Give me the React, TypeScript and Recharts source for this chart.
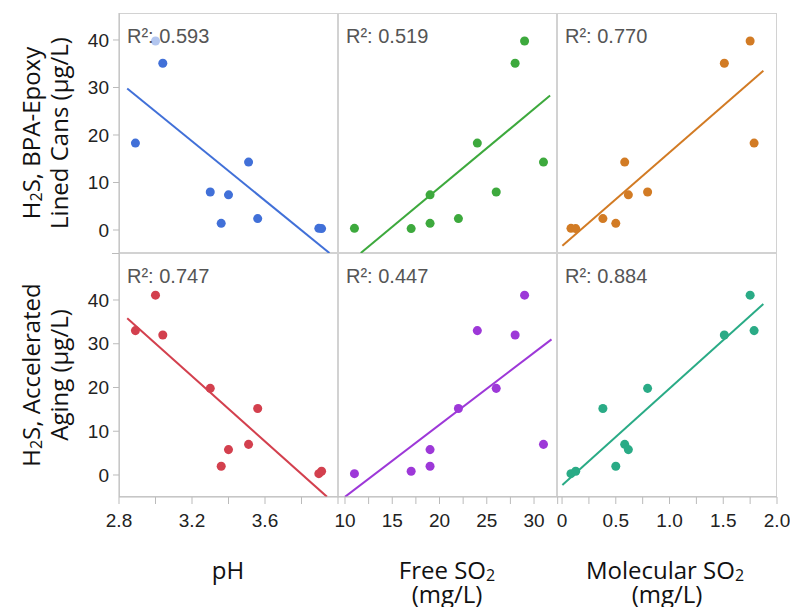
import { ReferenceLine, Scatter, ScatterChart, XAxis, YAxis } from "recharts";

// one entry per wine, same order in every array
const pH = [2.89, 3.0, 3.04, 3.51, 3.3, 3.4, 3.36, 3.56, 3.895, 3.91];
const freeSO2 = [24, 29, 28, 31, 26, 19, 19, 22, 11, 17];
const molecularSO2 = [1.787, 1.75, 1.51, 0.583, 0.796, 0.617, 0.5, 0.38, 0.083, 0.127];
const h2sBpaCans = [18.3, 39.8, 35.1, 14.3, 8.0, 7.4, 1.4, 2.4, 0.35, 0.3];
const h2sAging = [33.0, 41.1, 32.0, 7.0, 19.8, 5.8, 2.0, 15.2, 0.3, 0.85];

const rSquared = [
  ["0.593", "0.519", "0.770"],
  ["0.747", "0.447", "0.884"],
];

// fitted lines, [x1, y1, x2, y2]
const fitLines = [
  [
    [2.845, 29.8, 3.953, -4.84],
    [11.67, -4.84, 31.7, 28.3],
    [0.003, -3.3, 1.873, 33.5],
  ],
  [
    [2.845, 35.8, 3.94, -5.0],
    [10, -5.0, 31.85, 31.0],
    [0.003, -2.3, 1.873, 39.1],
  ],
];

const pHTicks = [2.8, 3.0, 3.2, 3.4, 3.6, 3.8, 4.0];
const pHLabels = [2.8, 3.2, 3.6];
const freeTicks = [10, 12.5, 15, 17.5, 20, 22.5, 25, 27.5, 30, 32.5];
const freeLabels = [10, 15, 20, 25, 30];
const molTicks = [0, 0.25, 0.5, 0.75, 1.0, 1.25, 1.5, 1.75, 2.0];
const molLabels = [0, 0.5, 1.0, 1.5, 2.0];
const yTicks = [0, 10, 20, 30, 40];

const colors = [
  ["#4170d8", "#3da93d", "#d27b24"],
  ["#d3404e", "#9d38d8", "#2aab86"],
];

const xVars = [pH, freeSO2, molecularSO2];
const yVars = [h2sBpaCans, h2sAging];
const xDomains = [
  [2.8, 4.0],
  [9.26, 32.43],
  [-0.047, 2.0],
];
const yDomains = [
  [-4.84, 45.68],
  [-5.03, 50.74],
];
const xTicks = [pHTicks, freeTicks, molTicks];
const xLabels = [pHLabels, freeLabels, molLabels];

const COL_X = [119, 338, 557, 777];
const ROW_Y = [13, 253, 497];
const Y_AXIS_W = 62;
const X_AXIS_H = 40;
const PAD = 24;
const GRID = "#d2d2d2";
const TICK_FONT = { fontFamily: "Liberation Sans, Arial, sans-serif", fontSize: 19, fill: "#222" };

const fmtX = (col: number) => (v: number) => {
  if (!xLabels[col].some((l) => Math.abs(l - v) < 1e-9)) return "";
  if (col === 1) return String(v);
  if (col === 2 && v === 0) return "0";
  return v.toFixed(1);
};

function Panel({ row, col }: { row: number; col: number }) {
  const left = COL_X[col];
  const right = COL_X[col + 1];
  const top = ROW_Y[row];
  const bottom = ROW_Y[row + 1];
  const showY = col === 0;
  const showX = row === 1;
  const w = right - left + (showY ? Y_AXIS_W : 0) + 2 * PAD;
  const h = bottom - top + (showX ? X_AXIS_H : 0);
  const points = xVars[col].map((x, i) => ({ x, y: yVars[row][i] }));
  const [x1, y1, x2, y2] = fitLines[row][col];
  const color = colors[row][col];

  return (
    <>
      <div
        style={{
          position: "absolute",
          left,
          top,
          width: right - left,
          height: bottom - top,
          border: `1px solid ${GRID}`,
          boxSizing: "border-box",
        }}
      />
      <div style={{ position: "absolute", left: left - (showY ? Y_AXIS_W : 0) - PAD, top, width: w, height: h }}>
        <ScatterChart width={w} height={h} margin={{ top: 0, right: PAD, bottom: 0, left: PAD }}>
          <XAxis
            type="number"
            dataKey="x"
            domain={xDomains[col]}
            allowDataOverflow
            ticks={xTicks[col]}
            interval={0}
            tickFormatter={fmtX(col)}
            hide={!showX}
            height={X_AXIS_H}
            tickSize={7}
            tickMargin={10}
            axisLine={{ stroke: "#bbb" }}
            tickLine={{ stroke: "#bbb" }}
            tick={TICK_FONT}
          />
          <YAxis
            type="number"
            dataKey="y"
            domain={yDomains[row]}
            allowDataOverflow
            ticks={yTicks}
            interval={0}
            hide={!showY}
            width={Y_AXIS_W}
            tickSize={6}
            tickMargin={4}
            axisLine={{ stroke: "#bbb" }}
            tickLine={{ stroke: "#bbb" }}
            tick={TICK_FONT}
          />
          <ReferenceLine
            segment={[
              { x: x1, y: y1 },
              { x: x2, y: y2 },
            ]}
            stroke={color}
            strokeWidth={2}
            ifOverflow="hidden"
          />
          <Scatter data={points} fill={color} isAnimationActive={false} />
        </ScatterChart>
      </div>
      <div
        style={{
          position: "absolute",
          left: left + 7,
          top: top + 13,
          padding: "0 1px",
          lineHeight: "20px",
          background: "rgba(255,255,255,0.6)",
          fontFamily: "Liberation Sans, Arial, sans-serif",
          fontSize: 20,
          color: "#555",
        }}
      >
        R²: {rSquared[row][col]}
      </div>
    </>
  );
}

const titleFont = { fontFamily: "Open Sans, sans-serif", fontSize: 24, fill: "#111" };

function Titles() {
  return (
    <svg width={790} height={607} style={{ position: "absolute", left: 0, top: 0, pointerEvents: "none" }}>
      <g transform="translate(30,133) rotate(-90)">
        <text textAnchor="middle" dominantBaseline="central" {...titleFont}>
          H<tspan fontSize={16} dy={6}>2</tspan>
          <tspan dy={-6}>S, BPA-Epoxy</tspan>
        </text>
      </g>
      <g transform="translate(58,133) rotate(-90)">
        <text textAnchor="middle" dominantBaseline="central" {...titleFont}>
          Lined Cans (µg/L)
        </text>
      </g>
      <g transform="translate(30,375) rotate(-90)">
        <text textAnchor="middle" dominantBaseline="central" {...titleFont}>
          H<tspan fontSize={16} dy={6}>2</tspan>
          <tspan dy={-6}>S, Accelerated</tspan>
        </text>
      </g>
      <g transform="translate(58,375) rotate(-90)">
        <text textAnchor="middle" dominantBaseline="central" {...titleFont}>
          Aging (µg/L)
        </text>
      </g>
      <text x={228} y={569} textAnchor="middle" dominantBaseline="central" {...titleFont}>
        pH
      </text>
      <text x={447} y={569} textAnchor="middle" dominantBaseline="central" {...titleFont}>
        Free SO<tspan fontSize={16} dy={6}>2</tspan>
      </text>
      <text x={447} y={593} textAnchor="middle" dominantBaseline="central" {...titleFont}>
        (mg/L)
      </text>
      <text x={665} y={569} textAnchor="middle" dominantBaseline="central" {...titleFont}>
        Molecular SO<tspan fontSize={16} dy={6}>2</tspan>
      </text>
      <text x={667} y={593} textAnchor="middle" dominantBaseline="central" {...titleFont}>
        (mg/L)
      </text>
    </svg>
  );
}

export default function App() {
  return (
    <div style={{ position: "absolute", left: 0, top: 0, width: 790, height: 607, background: "#fff", overflow: "hidden" }}>
      {[0, 1].map((row) => [0, 1, 2].map((col) => <Panel key={`${row}-${col}`} row={row} col={col} />))}
      <div style={{ position: "absolute", left: 112, top: ROW_Y[1], width: 7, height: 1, background: "#bbb" }} />
      <Titles />
    </div>
  );
}
